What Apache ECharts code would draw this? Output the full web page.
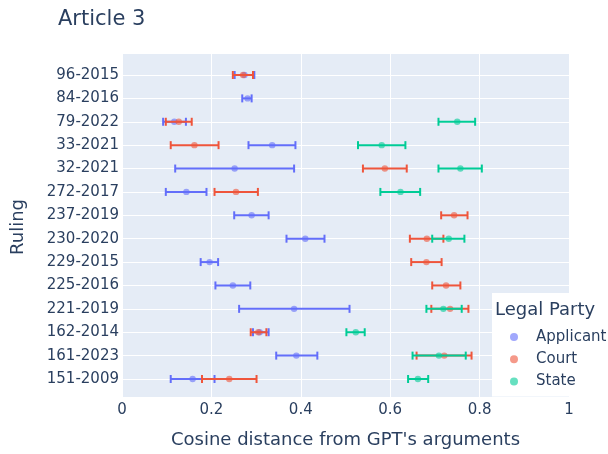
<!DOCTYPE html>
<html>
<head>
<meta charset="utf-8">
<script src="https://cdn.jsdelivr.net/npm/echarts@6/dist/echarts.min.js"></script>
<style>html,body{margin:0;padding:0;background:#fff}#c{width:608px;height:454px}</style>
</head>
<body>
<div id="c"></div>
<script>
// Rulings (bottom to top, as on the category axis)
const rulings = ['151-2009','161-2023','162-2014','221-2019','225-2016','229-2015','230-2020','237-2019','272-2017','32-2021','33-2021','79-2022','84-2016','96-2015'];
const xTicks = [0, 0.2, 0.4, 0.6, 0.8, 1];

// Applicant
const applicantCases = ['96-2015','84-2016','79-2022','33-2021','32-2021','272-2017','237-2019','230-2020','229-2015','225-2016','221-2019','162-2014','161-2023','151-2009'];
const applicantMean  = [0.274,0.281,0.117,0.336,0.252,0.144,0.290,0.410,0.196,0.248,0.385,0.308,0.390,0.158];
const applicantLow   = [0.252,0.269,0.092,0.283,0.119,0.098,0.251,0.368,0.176,0.209,0.262,0.293,0.345,0.109];
const applicantHigh  = [0.296,0.290,0.143,0.388,0.385,0.189,0.328,0.453,0.215,0.287,0.509,0.328,0.437,0.207];

// Court
const courtCases = ['96-2015','79-2022','33-2021','32-2021','272-2017','237-2019','230-2020','229-2015','225-2016','221-2019','162-2014','161-2023','151-2009'];
const courtMean  = [0.271,0.127,0.162,0.588,0.255,0.743,0.682,0.681,0.725,0.734,0.305,0.721,0.240];
const courtLow   = [0.248,0.098,0.109,0.539,0.207,0.714,0.644,0.647,0.694,0.692,0.288,0.659,0.179];
const courtHigh  = [0.293,0.156,0.216,0.637,0.304,0.773,0.719,0.715,0.757,0.775,0.323,0.782,0.301];

// State
const stateCases = ['79-2022','33-2021','32-2021','272-2017','230-2020','221-2019','162-2014','161-2023','151-2009'];
const stateMean  = [0.750,0.581,0.757,0.623,0.731,0.719,0.523,0.709,0.662];
const stateLow   = [0.708,0.528,0.708,0.578,0.694,0.681,0.502,0.650,0.640];
const stateHigh  = [0.790,0.634,0.805,0.667,0.766,0.760,0.543,0.769,0.685];

const FONT = 'DejaVu Sans';
const TXT = '#2a3f5f';

function buildData(cases, mean, lo, hi) {
  return cases.map((c, i) => [mean[i], c, lo[i], hi[i]]);
}

function errSeries(name, color, data) {
  return {
    name: name,
    type: 'custom',
    xAxisIndex: 1,
    yAxisIndex: 1,
    itemStyle: { color: color },
    encode: { x: [0, 2, 3], y: 1 },
    data: data,
    renderItem: function (params, api) {
      const yi = api.value(1);
      const m = api.coord([api.value(0), yi]);
      const a = api.coord([api.value(2), yi]);
      const b = api.coord([api.value(3), yi]);
      const cap = 4;
      const ls = { stroke: color, lineWidth: 2 };
      return {
        type: 'group',
        children: [
          { type: 'line', shape: { x1: a[0], y1: a[1], x2: b[0], y2: b[1] }, style: ls },
          { type: 'line', shape: { x1: a[0], y1: a[1] - cap, x2: a[0], y2: a[1] + cap }, style: ls },
          { type: 'line', shape: { x1: b[0], y1: b[1] - cap, x2: b[0], y2: b[1] + cap }, style: ls },
          { type: 'circle', shape: { cx: m[0], cy: m[1], r: 3.2 }, style: { fill: color, opacity: 0.6 } }
        ]
      };
    }
  };
}

const chart = echarts.init(document.getElementById('c'), null, { renderer: 'canvas' });
const option = {
  animation: false,
  textStyle: { fontFamily: FONT, color: TXT },
  title: [
    { text: 'Article 3', left: 58, top: 9, padding: 0,
      textStyle: { fontFamily: FONT, fontSize: 21, fontWeight: 'normal', color: TXT } },
    { text: 'Legal Party', left: 495, top: 301, padding: 0, z: 10,
      textStyle: { fontFamily: FONT, fontSize: 18, fontWeight: 'normal', color: TXT } }
  ],
  legend: {
    orient: 'vertical',
    left: 492,
    top: 293,
    backgroundColor: '#ffffff',
    padding: [36, 30, 7, 18],
    itemWidth: 8,
    itemHeight: 8,
    itemGap: 6.2,
    icon: 'circle',
    textStyle: { fontFamily: FONT, fontSize: 15, color: TXT, lineHeight: 16, padding: [0, 0, 0, 13] },
    data: [
      { name: 'Applicant', itemStyle: { color: '#636efa', opacity: 0.6 } },
      { name: 'Court', itemStyle: { color: '#EF553B', opacity: 0.6 } },
      { name: 'State', itemStyle: { color: '#00cc96', opacity: 0.6 } }
    ]
  },
  grid: [
    { left: 122, right: 39, top: 54, bottom: 55, show: true, backgroundColor: '#E5ECF6', borderWidth: 0 },
    { left: 122, right: 39, top: 75, bottom: 75, show: false }
  ],
  xAxis: [
    {
      gridIndex: 0, type: 'value', min: xTicks[0], max: xTicks[xTicks.length - 1], interval: 0.2,
      axisLine: { show: false }, axisTick: { show: false },
      axisLabel: { fontSize: 15, color: TXT, margin: 6, fontFamily: FONT },
      splitLine: { show: true, lineStyle: { color: '#ffffff', width: 1 } },
      name: "Cosine distance from GPT's arguments", nameLocation: 'middle', nameGap: 34,
      nameTextStyle: { fontSize: 18, color: TXT, fontFamily: FONT }
    },
    { gridIndex: 1, type: 'value', min: 0, max: 1, show: false, splitLine: { show: false } }
  ],
  yAxis: [
    { gridIndex: 0, type: 'value', show: false, splitLine: { show: false } },
    {
      gridIndex: 1, type: 'category', data: rulings, boundaryGap: false,
      axisLine: { show: false }, axisTick: { show: false },
      axisLabel: { fontSize: 15, color: TXT, margin: 3, interval: 0, fontFamily: FONT },
      splitLine: { show: true, interval: 0, lineStyle: { color: '#ffffff', width: 1 } },
      name: 'Ruling', nameLocation: 'middle', nameGap: 95, nameRotate: 90,
      nameTextStyle: { fontSize: 18, color: TXT, fontFamily: FONT }
    }
  ],
  series: [
    errSeries('Applicant', '#636efa', buildData(applicantCases, applicantMean, applicantLow, applicantHigh)),
    errSeries('Court', '#EF553B', buildData(courtCases, courtMean, courtLow, courtHigh)),
    errSeries('State', '#00cc96', buildData(stateCases, stateMean, stateLow, stateHigh))
  ]
};
chart.setOption(option);
</script>
</body>
</html>
